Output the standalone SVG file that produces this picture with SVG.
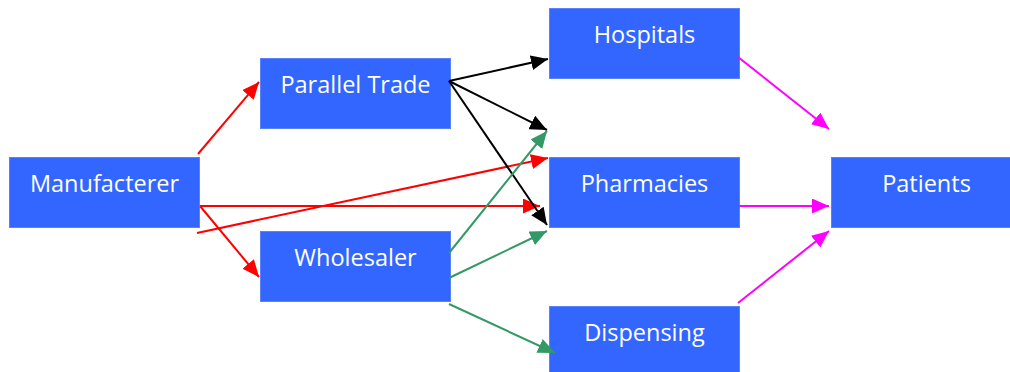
<svg xmlns="http://www.w3.org/2000/svg" width="1010" height="372" viewBox="0 0 1010 372">
  <style>
    .box { fill: #3366FF; stroke: #5a82ff; stroke-width: 1; }
    .label { fill: #ffffff; font-family: "Open Sans", "Noto Sans", sans-serif; font-size: 23.5px; text-anchor: middle; }
    .edge { stroke-width: 2; fill: none; }
    .red { stroke: #FF0000; }
    .black { stroke: #000000; }
    .green { stroke: #339966; }
    .magenta { stroke: #FF00FF; }
  </style>
  <defs>
    <marker id="ah-red" markerUnits="userSpaceOnUse" markerWidth="17" markerHeight="15" refX="17" refY="7.5" orient="auto">
      <path d="M0,0 L17,7.5 L0,15 z" fill="#FF0000"/>
    </marker>
    <marker id="ah-black" markerUnits="userSpaceOnUse" markerWidth="17" markerHeight="15" refX="17" refY="7.5" orient="auto">
      <path d="M0,0 L17,7.5 L0,15 z" fill="#000000"/>
    </marker>
    <marker id="ah-green" markerUnits="userSpaceOnUse" markerWidth="17" markerHeight="15" refX="17" refY="7.5" orient="auto">
      <path d="M0,0 L17,7.5 L0,15 z" fill="#339966"/>
    </marker>
    <marker id="ah-magenta" markerUnits="userSpaceOnUse" markerWidth="17" markerHeight="15" refX="17" refY="7.5" orient="auto">
      <path d="M0,0 L17,7.5 L0,15 z" fill="#FF00FF"/>
    </marker>
  </defs>

  <g id="manufacterer">
    <rect class="box" x="9.5" y="157.5" width="190" height="70"/>
    <text class="label" x="104.5" y="192">Manufacterer</text>
  </g>
  <g id="parallel-trade">
    <rect class="box" x="260.5" y="58.5" width="190" height="70"/>
    <text class="label" x="355.5" y="93">Parallel Trade</text>
  </g>
  <g id="wholesaler">
    <rect class="box" x="260.5" y="231.5" width="190" height="70"/>
    <text class="label" x="355.5" y="266">Wholesaler</text>
  </g>
  <g id="hospitals">
    <rect class="box" x="549.5" y="8.5" width="190" height="70"/>
    <text class="label" x="644.5" y="43">Hospitals</text>
  </g>
  <g id="pharmacies">
    <rect class="box" x="549.5" y="157.5" width="190" height="70"/>
    <text class="label" x="644.5" y="192">Pharmacies</text>
  </g>
  <g id="dispensing">
    <rect class="box" x="549.5" y="306.5" width="190" height="70"/>
    <text class="label" x="644.5" y="341">Dispensing</text>
  </g>
  <g id="patients">
    <rect class="box" x="831.5" y="157.5" width="190" height="70"/>
    <text class="label" x="926.5" y="192">Patients</text>
  </g>

  <g id="connectors">
    <line class="edge red" x1="198" y1="154" x2="259" y2="82" marker-end="url(#ah-red)"/>
    <line class="edge red" x1="200" y1="206" x2="540" y2="206" marker-end="url(#ah-red)"/>
    <line class="edge red" x1="200" y1="206" x2="259" y2="277" marker-end="url(#ah-red)"/>
    <line class="edge red" x1="197" y1="233" x2="548" y2="158" marker-end="url(#ah-red)"/>

    <line class="edge black" x1="449" y1="81" x2="548" y2="59" marker-end="url(#ah-black)"/>
    <line class="edge black" x1="449" y1="81" x2="547" y2="130" marker-end="url(#ah-black)"/>
    <line class="edge black" x1="449" y1="81" x2="547" y2="225" marker-end="url(#ah-black)"/>

    <line class="edge green" x1="449" y1="253" x2="547" y2="131" marker-end="url(#ah-green)"/>
    <line class="edge green" x1="449" y1="278" x2="547" y2="231" marker-end="url(#ah-green)"/>
    <line class="edge green" x1="449" y1="304" x2="555" y2="353" marker-end="url(#ah-green)"/>

    <line class="edge magenta" x1="738" y1="57" x2="829" y2="129" marker-end="url(#ah-magenta)"/>
    <line class="edge magenta" x1="739" y1="206" x2="829" y2="206" marker-end="url(#ah-magenta)"/>
    <line class="edge magenta" x1="738" y1="303" x2="829" y2="231" marker-end="url(#ah-magenta)"/>
  </g>
</svg>
